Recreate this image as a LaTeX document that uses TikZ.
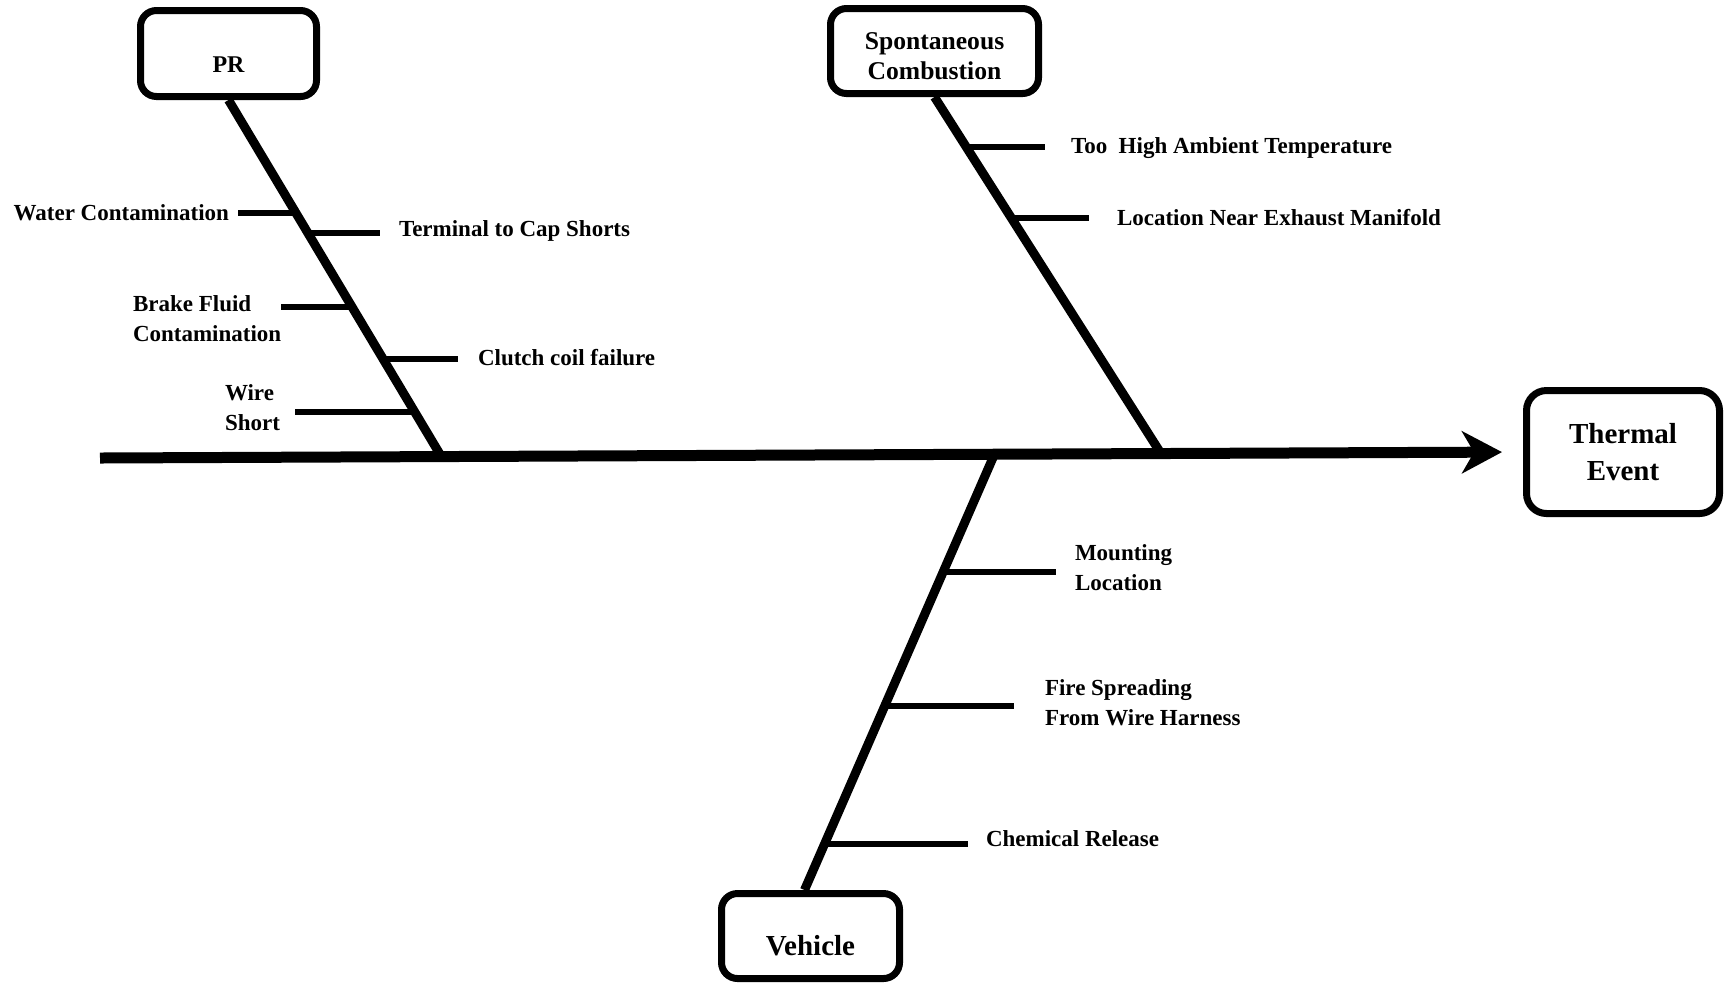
\documentclass[tikz,border=0pt]{standalone}
\usepackage{fontspec}
\setmainfont{Liberation Serif}
\usetikzlibrary{arrows.meta,calc}
\begin{document}
\begin{tikzpicture}[x=0.5pt,y=-0.5pt,
  cat/.style={draw, line width=3.5pt, rounded corners=8pt, inner sep=0pt},
  cattext/.style={align=center, inner sep=0pt, font=\fontsize{14.5}{18.5}\selectfont\bfseries},
  bone/.style={line width=4.5pt},
  spine/.style={line width=5.5pt, -{Stealth[length=20pt,width=21pt,inset=6pt]}},
  sub/.style={line width=3pt},
  lbl/.style={inner sep=0pt, outer sep=0pt, align=left,
    font=\fontsize{11.5}{15}\selectfont\bfseries}]
\useasboundingbox (0,0) rectangle (1728,987);

% category boxes
\node[cat, minimum width=88pt, minimum height=43pt] (pr) at (228.5,53.5) {};
\node[cattext, font=\fontsize{12}{15}\selectfont\bfseries] (prt) at ($(pr.center)+(0,11)$) {PR};
\node[cat, minimum width=104pt, minimum height=42.5pt] (sc) at (934.5,51) {};
\node[cattext, font=\fontsize{12.8}{15}\selectfont\bfseries] (sct) at ($(sc.center)+(0,5.5)$) {Spontaneous\\Combustion};
\node[cat, minimum width=96.5pt, minimum height=61.5pt, rounded corners=10pt] (te) at (1623,452) {};
\node[cattext] (tet) at (te.center) {Thermal\\Event};
\node[cat, minimum width=89pt, minimum height=42.5pt] (vh) at (810.5,936) {};
\node[cattext] (vht) at ($(vh.center)+(0,10)$) {Vehicle};

% spine
\coordinate (s0) at (100,458);
\coordinate (j1) at (441,456);
\coordinate (j3) at (995,453);
\coordinate (j2) at (1160,452);
\coordinate (vb) at ($(vh.north)+(-6,0)$);
\draw[spine, shorten >=10.5pt] (s0) -- (te.west);

% main bones
\draw[bone] (pr.south) -- (j1);
\draw[bone] (sc.south) -- (j2);
\draw[bone] (j3) -- (vb);

% points on the PR bone
\coordinate (b1) at ($(pr.south)!0.321!(j1)$);
\coordinate (b2) at ($(pr.south)!0.378!(j1)$);
\coordinate (b3) at ($(pr.south)!0.588!(j1)$);
\coordinate (b4) at ($(pr.south)!0.736!(j1)$);
\coordinate (b5) at ($(pr.south)!0.886!(j1)$);
% points on the combustion bone
\coordinate (b6) at ($(sc.south)!0.142!(j2)$);
\coordinate (b7) at ($(sc.south)!0.344!(j2)$);
% points on the vehicle bone
\coordinate (b8) at ($(j3)!0.2685!(vb)$);
\coordinate (b9) at ($(j3)!0.579!(vb)$);
\coordinate (b10) at ($(j3)!0.898!(vb)$);

% free ends of the sub-bones
\coordinate (e1) at (238,213);
\coordinate (e2) at (380,233);
\coordinate (e3) at (281,307);
\coordinate (e4) at (458,359);
\coordinate (e5) at (295,412);
\coordinate (e6) at (1045,147);
\coordinate (e7) at (1089,218);
\coordinate (e8) at (1056,572);
\coordinate (e9) at (1014,706);
\coordinate (e10) at (968,844);

\draw[sub] (e1) -- (b1 |- e1);
\draw[sub] (b2 |- e2) -- (e2);
\draw[sub] (e3) -- (b3 |- e3);
\draw[sub] (b4 |- e4) -- (e4);
\draw[sub] (e5) -- (b5 |- e5);
\draw[sub] (b6 |- e6) -- (e6);
\draw[sub] (b7 |- e7) -- (e7);
\draw[sub] (b8 |- e8) -- (e8);
\draw[sub] (b9 |- e9) -- (e9);
\draw[sub] (b10 |- e10) -- (e10);

% labels
\node[lbl, anchor=base east] (l1) at (229,220) {Water Contamination};
\node[lbl, anchor=base west] (l2) at (399,236) {Terminal to Cap Shorts};
\node[lbl, anchor=west] (l3) at (133,319) {Brake Fluid\\Contamination};
\node[lbl, anchor=base west] (l4) at (478,365) {Clutch coil failure};
\node[lbl, anchor=west] (l5) at (225,408) {Wire\\Short};
\node[lbl, anchor=base west] (l6) at (1071,153) {Too~ High Ambient Temperature};
\node[lbl, anchor=base west] (l7) at (1117,225) {Location Near Exhaust Manifold};
\node[lbl, anchor=west] (l8) at (1075,568) {Mounting\\Location};
\node[lbl, anchor=west] (l9) at (1045,703) {Fire Spreading\\From Wire Harness};
\node[lbl, anchor=base west] (l10) at (986,846) {Chemical Release};
\end{tikzpicture}
\end{document}
